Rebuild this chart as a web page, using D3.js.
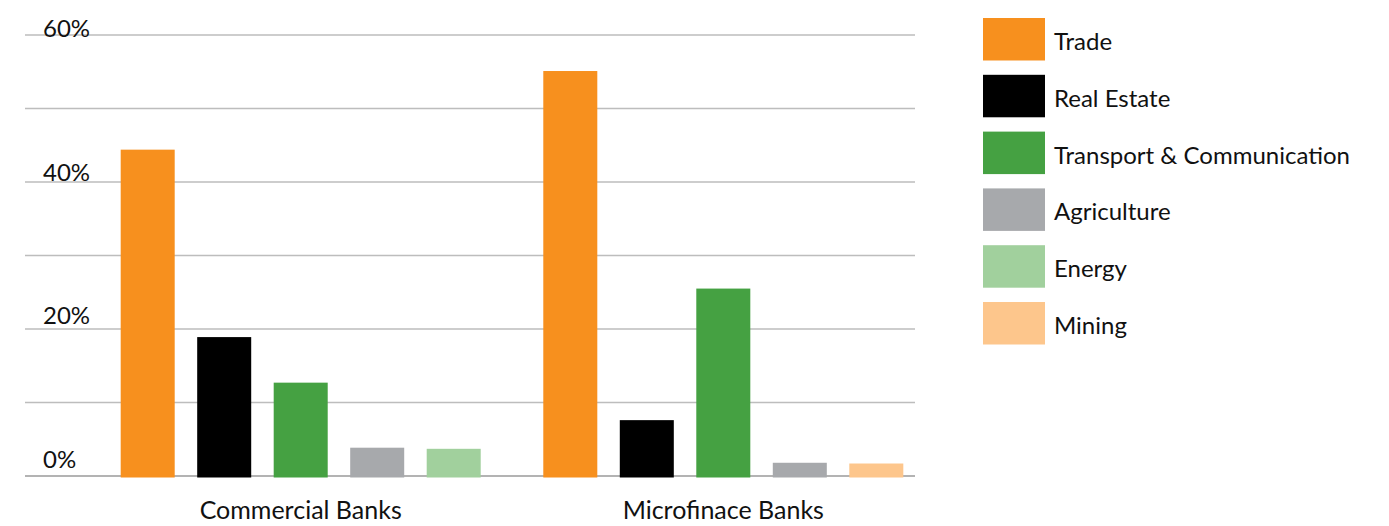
<!DOCTYPE html>
<html>
<head>
<meta charset="utf-8">
<script src="https://cdn.jsdelivr.net/npm/d3@7"></script>
<style>
  html, body { margin: 0; padding: 0; background: #fff; }
  svg { display: block; font-family: Lato, "Open Sans", sans-serif; }
</style>
</head>
<body>
<svg id="chart" width="1389" height="526"></svg>
<script>
// Loan portfolio share by sector (%)
const groups = ["Commercial Banks", "Microfinace Banks"];
const sectors = ["Trade", "Real Estate", "Transport & Communication", "Agriculture", "Energy", "Mining"];
const commercialBanks = [44.4, 18.9, 12.7, 3.85, 3.7, null];
const microfinanceBanks = [55.1, 7.6, 25.5, 1.8, null, 1.7];
const sectorColors = ["#F7901E", "#000000", "#45A142", "#A7A9AC", "#A1D09D", "#FDC68C"];
const gridValues = [0, 10, 20, 30, 40, 50, 60];
const tickLabels = [0, 20, 40, 60];

const seriesByGroup = [commercialBanks, microfinanceBanks];

const svg = d3.select("#chart");

const y = d3.scaleLinear().domain([0, 60]).range([476, 35]);
// tick labels sit slightly above their gridlines, a bit tighter than the grid
const yLabel = d3.scaleLinear().domain([0, 60]).range([468, 37]);

const x0 = d3.scaleBand().domain(groups).range([89.4, 934.6]).padding(0);
const x1 = d3.scaleBand().domain(d3.range(5))
  .range([0, x0.bandwidth()])
  .paddingInner(0.294).paddingOuter(0.409);

const color = d3.scaleOrdinal().domain(sectors).range(sectorColors);

// gridlines
svg.append("g").selectAll("line")
  .data(gridValues)
  .join("line")
  .attr("x1", 25).attr("x2", 915)
  .attr("y1", d => y(d)).attr("y2", d => y(d))
  .attr("stroke", d => d === 0 ? "#9a9a9a" : "#bdbdbd")
  .attr("stroke-width", 1.3);

// y tick labels
svg.append("g").selectAll("text")
  .data(tickLabels)
  .join("text")
  .attr("x", 43)
  .attr("y", d => yLabel(d))
  .attr("font-size", 24)
  .attr("fill", "#111")
  .text(d => d + "%");

// bars
const groupG = svg.append("g").selectAll("g")
  .data(groups)
  .join("g")
  .attr("transform", d => `translate(${x0(d)},0)`);

groupG.selectAll("rect")
  .data((g, gi) => sectors
    .map((s, si) => ({ sector: s, value: seriesByGroup[gi][si] }))
    .filter(d => d.value !== null)
    .map((d, i) => ({ ...d, slot: i })))
  .join("rect")
  .attr("x", d => x1(d.slot))
  .attr("width", x1.bandwidth())
  .attr("y", d => y(d.value))
  .attr("height", d => y(0) - y(d.value) + 1.5)
  .attr("fill", d => color(d.sector));

// group labels
svg.append("g").selectAll("text")
  .data(groups)
  .join("text")
  .attr("x", d => x0(d) + x0.bandwidth() / 2)
  .attr("y", 519)
  .attr("text-anchor", "middle")
  .attr("font-size", 25)
  .attr("fill", "#111")
  .text(d => d);

// legend
const legendY = d3.scaleBand().domain(sectors).range([18, 344.5]).paddingInner(0.252).paddingOuter(0);
const legend = svg.append("g").selectAll("g")
  .data(sectors)
  .join("g")
  .attr("transform", d => `translate(983,${legendY(d)})`);

legend.append("rect")
  .attr("width", 62)
  .attr("height", legendY.bandwidth())
  .attr("fill", d => color(d));

legend.append("text")
  .attr("x", 71)
  .attr("y", 32)
  .attr("font-size", 24)
  .attr("fill", "#111")
  .text(d => d);
</script>
</body>
</html>
